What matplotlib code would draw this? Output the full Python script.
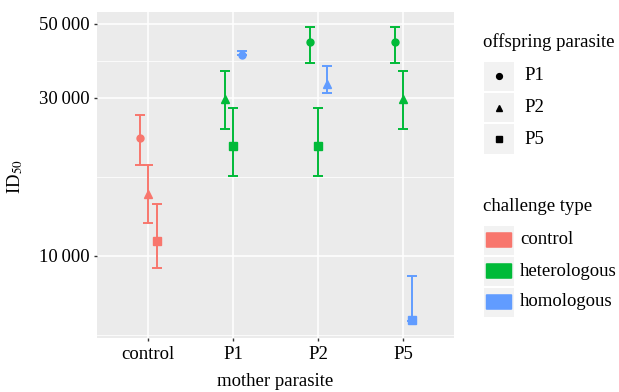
import numpy as np
import matplotlib
matplotlib.use("Agg")
import matplotlib.pyplot as plt
from matplotlib.patches import Rectangle, FancyBboxPatch
from matplotlib.lines import Line2D

plt.rcParams['font.family'] = ['Liberation Serif', 'DejaVu Serif']
plt.rcParams['mathtext.fontset'] = 'stix'

# data
# =========================
mothers = ["control", "P1", "P2", "P5"]
offspring_types = ["P1", "P2", "P5"]
challenge_types = ["control", "heterologous", "homologous"]

mother = ["control", "control", "control",
          "P1", "P1", "P1",
          "P2", "P2", "P2",
          "P5", "P5", "P5"]
offspring = ["P1", "P2", "P5",
             "P2", "P5", "P1",
             "P1", "P5", "P2",
             "P1", "P2", "P5"]
challenge = ["control", "control", "control",
             "heterologous", "heterologous", "homologous",
             "heterologous", "heterologous", "homologous",
             "heterologous", "heterologous", "homologous"]
id50 = [22700, 15400, 11100,
        29800, 21500, 40400,
        44000, 21500, 32900,
        44000, 29800, 6400]
lower = [18800, 12600, 9200,
         24200, 17450, 40300,
         38000, 17450, 30900,
         38000, 24200, 6380]
upper = [26600, 18800, 14300,
         36000, 27850, 41400,
         49000, 27850, 37400,
         49000, 36000, 8700]
dodge = [-0.1, 0.0, 0.1,
         -0.1, 0.0, 0.1,
         -0.1, 0.0, 0.1,
         -0.1, 0.0, 0.1]

colors = {"control": "#F8766D", "heterologous": "#00BA38", "homologous": "#619CFF"}
shapes = {"P1": "o", "P2": "^", "P5": "s"}
msizes = {"P1": 5.0, "P2": 5.5, "P5": 5.2}
FS = 13.5

fig = plt.figure(figsize=(6.19, 3.92), dpi=100)
W, H = 619, 392
ax = fig.add_axes([97 / W, 1 - 338 / H, (454 - 97) / W, (338 - 12) / H])

ax.set_facecolor("#EBEBEB")
for s in ax.spines.values():
    s.set_visible(False)

ax.set_yscale("log")
ax.set_xlim(-0.6, 3.6)
ax.set_ylim(5662, 54300)

# grid like ggplot (minor lines halfway in log space)
major_y = [10000, 30000, 50000]
minor_y = [10000 / np.sqrt(3), np.sqrt(10000 * 30000), np.sqrt(30000 * 50000)]
for v in major_y:
    ax.axhline(v, color="white", lw=1.1, zorder=1)
for v in minor_y:
    ax.axhline(v, color="white", lw=0.55, zorder=1)
for i in range(len(mothers)):
    ax.axvline(i, color="white", lw=1.1, zorder=1)

# points with error bars
for i in range(len(id50)):
    x = mothers.index(mother[i]) + dodge[i]
    c = colors[challenge[i]]
    ax.errorbar(x, id50[i], yerr=[[id50[i] - lower[i]], [upper[i] - id50[i]]],
                fmt="none", ecolor=c, elinewidth=1.4, capsize=3.3, capthick=1.4, zorder=3)
    ax.plot(x, id50[i], marker=shapes[offspring[i]], color=c, ms=msizes[offspring[i]],
            mec=c, ls="none", zorder=4)

ax.set_yticks(major_y)
ax.set_yticklabels(["10\u2009000", "30\u2009000", "50\u2009000"])
ax.yaxis.set_minor_locator(matplotlib.ticker.NullLocator())
ax.set_xticks(range(len(mothers)))
ax.set_xticklabels(mothers)
ax.tick_params(axis="both", which="major", length=2.5, width=1.0, color="#333333",
               labelsize=FS, labelcolor="black", pad=3)

fig.text(275.5 / W, 1 - 382 / H, "mother parasite", ha="center", va="center", fontsize=FS)
fig.text(15 / W, 1 - 177 / H, r"ID$_{50}$", ha="center", va="center", rotation=90, fontsize=FS)

# legends drawn by hand
# =========================
def key_box(yc):
    fig.patches.append(Rectangle(((484) / W, 1 - (yc + 14.5) / H), 30 / W, 29 / H,
                                 transform=fig.transFigure, facecolor="#F2F2F2",
                                 edgecolor="none"))

fig.text(483 / W, 1 - 42 / H, "offspring parasite", ha="left", va="center", fontsize=FS)
for k, off in enumerate(offspring_types):
    yc = 76 + k * 31.5
    key_box(yc)
    fig.lines.append(Line2D([499 / W], [1 - yc / H], marker=shapes[off], color="black",
                            ms=4.2, ls="none", transform=fig.transFigure))
    fig.text(524 / W, 1 - yc / H, off, ha="left", va="center", fontsize=FS)

fig.text(483 / W, 1 - 207 / H, "challenge type", ha="left", va="center", fontsize=FS)
for k, ch in enumerate(challenge_types):
    yc = 240 + k * 31
    key_box(yc)
    fig.patches.append(FancyBboxPatch((487 / W, 1 - (yc + 7) / H), 24 / W, 14 / H,
                                      boxstyle="round,pad=0.002", transform=fig.transFigure,
                                      facecolor=colors[ch], edgecolor="none"))
    fig.text(520 / W, 1 - yc / H, ch, ha="left", va="center", fontsize=FS)

fig.savefig("out.png", dpi=100)
